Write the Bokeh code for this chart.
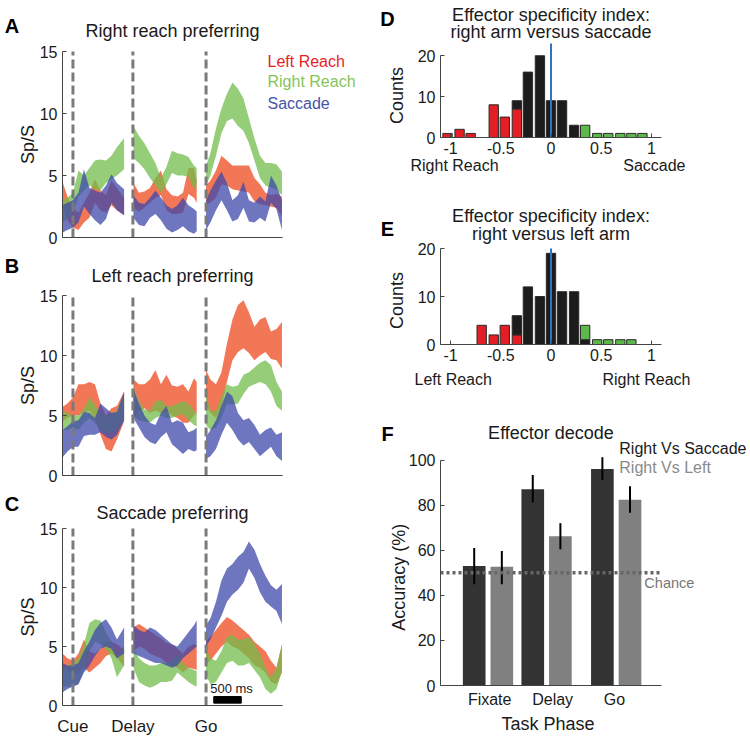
import math
import numpy as np
from bokeh.plotting import figure
from bokeh.models import Range1d, FixedTicker, Label
from bokeh.layouts import row, column
from bokeh.embed import file_html
from bokeh.resources import INLINE

FONT = "Liberation Sans"

# ---------------- data: PSTH bands (spikes/s), times in ms from cue ----------------
t_fix = [-190, -100, 0, 100, 200, 300, 400, 500, 600, 700, 800, 930]
t_delay = [1100, 1200, 1300, 1400, 1500, 1600, 1700, 1800, 1900, 2000, 2100, 2200, 2250]
t_go = [2420, 2500, 2600, 2700, 2800, 2900, 3000, 3100, 3200, 3300, 3400, 3500, 3600, 3700, 3800]
event_times = [0, 1090, 2420]
event_names = ["Cue", "Delay", "Go"]
scale_bar_ms = [2560, 3060]
time_axis = [-190, 3810]
rate_axis = [0, 15]
rate_ticks = [0, 5, 10, 15]

# Panel A: right reach preferring
A_left_lo = ([2.8, 1.4, 0.8, 0.6, 1.2, 1.6, 2.8, 2.2, 2.0, 2.6, 2.2, 1.8],
             [2.4, 2.1, 2.4, 2.8, 3.2, 3.4, 2.2, 1.9, 1.9, 2.0, 3.5, 3.2, 2.8],
             [2.7, 2.8, 3.2, 4.3, 4.2, 3.9, 3.8, 3.7, 3.6, 2.9, 2.7, 2.6, 2.5, 2.4, 1.7])
A_left_hi = ([4.5, 3.3, 2.4, 2.0, 2.8, 3.6, 4.7, 3.8, 3.4, 4.6, 4.0, 3.2],
             [4.4, 3.6, 3.7, 4.0, 4.8, 5.4, 3.9, 3.4, 3.3, 3.6, 5.6, 5.6, 4.6],
             [4.2, 4.6, 5.4, 6.6, 6.2, 5.8, 5.8, 5.8, 5.8, 4.8, 4.3, 3.6, 3.4, 3.5, 3.3])
A_right_lo = ([1.2, 1.5, 2.0, 3.3, 3.8, 4.2, 3.9, 3.8, 4.4, 4.7, 5.0, 5.5],
              [6.4, 6.0, 5.5, 4.8, 4.2, 3.6, 4.3, 5.2, 5.0, 5.0, 4.9, 3.9, 4.3],
              [4.2, 5.0, 6.6, 8.4, 9.4, 9.6, 9.0, 8.6, 7.6, 6.2, 4.8, 4.2, 4.0, 3.9, 3.4])
A_right_hi = ([3.0, 3.2, 3.6, 5.4, 5.0, 5.6, 6.2, 6.3, 6.2, 6.6, 7.3, 8.0],
              [9.0, 8.2, 7.6, 6.8, 6.0, 4.8, 5.7, 7.0, 6.8, 6.7, 6.5, 5.8, 5.6],
              [5.8, 6.8, 8.8, 10.4, 11.6, 12.5, 12.0, 11.2, 9.6, 8.0, 6.6, 6.0, 6.0, 5.9, 5.3])
A_sacc_lo = ([0.4, 0.6, 0.8, 1.2, 2.5, 1.9, 1.4, 1.0, 1.5, 2.8, 2.2, 1.8],
             [1.6, 1.0, 0.9, 1.6, 1.9, 1.4, 0.7, 0.4, 0.6, 0.9, 0.5, 0.3, 0.5],
             [0.6, 1.2, 2.2, 3.0, 2.2, 1.3, 1.5, 2.4, 1.3, 1.2, 1.6, 1.3, 2.8, 2.3, 0.6])
A_sacc_hi = ([2.6, 2.8, 3.0, 3.6, 5.5, 4.0, 3.8, 3.6, 4.2, 5.1, 4.4, 3.9],
             [3.4, 2.8, 2.7, 3.2, 3.8, 3.2, 2.6, 2.3, 2.6, 3.2, 2.6, 2.3, 2.1],
             [3.0, 3.8, 4.6, 5.3, 4.4, 3.0, 3.4, 4.5, 3.0, 2.8, 3.3, 2.9, 5.0, 4.2, 3.0])

# Panel B: left reach preferring
B_left_lo = ([4.5, 4.8, 5.0, 5.0, 5.2, 5.4, 4.8, 3.4, 2.2, 2.0, 3.0, 4.5],
             [4.8, 5.4, 5.6, 5.2, 5.4, 5.2, 5.4, 5.0, 4.8, 4.4, 4.4, 5.0, 5.2],
             [5.8, 5.2, 4.8, 5.6, 7.8, 9.6, 10.3, 10.6, 10.2, 9.6, 10.0, 10.3, 9.7, 9.6, 8.9])
B_left_hi = ([5.7, 6.0, 6.5, 7.6, 7.6, 7.8, 7.6, 6.0, 5.0, 5.6, 5.8, 7.0],
             [8.0, 7.6, 7.6, 8.0, 8.8, 7.6, 8.4, 7.5, 7.4, 7.6, 7.0, 8.1, 7.8],
             [8.8, 8.0, 7.6, 8.6, 11.0, 13.0, 14.2, 14.6, 13.6, 12.4, 13.0, 13.2, 12.0, 12.2, 12.8])
B_right_lo = ([3.8, 3.8, 4.0, 3.8, 4.4, 4.8, 4.4, 3.8, 3.5, 3.6, 3.8, 4.6],
              [5.0, 4.6, 4.5, 4.4, 4.8, 5.0, 4.8, 4.8, 5.0, 5.1, 4.6, 4.2, 4.1],
              [4.2, 3.8, 4.0, 4.8, 6.0, 5.9, 6.0, 6.8, 7.4, 7.6, 7.8, 7.6, 7.0, 5.8, 5.4])
B_right_hi = ([5.4, 5.2, 5.0, 5.0, 5.6, 6.5, 5.9, 5.2, 5.0, 5.2, 5.4, 6.8],
              [7.4, 6.2, 5.5, 5.4, 6.2, 6.3, 5.8, 5.8, 6.0, 6.2, 6.0, 5.4, 5.2],
              [6.8, 5.4, 5.4, 6.6, 7.6, 7.4, 7.5, 8.4, 8.6, 9.0, 9.4, 9.6, 9.2, 7.8, 7.0])
B_sacc_lo = ([1.5, 2.0, 2.4, 2.4, 3.3, 3.4, 3.4, 3.6, 3.2, 3.0, 3.4, 4.6],
             [4.8, 4.0, 3.2, 2.8, 2.6, 3.2, 3.6, 2.6, 2.2, 1.8, 2.2, 2.0, 2.1],
             [1.4, 1.6, 2.2, 3.4, 4.4, 3.8, 3.0, 2.5, 2.8, 2.2, 1.6, 2.0, 2.4, 1.6, 1.2])
B_sacc_hi = ([3.8, 4.1, 4.5, 4.6, 5.3, 5.2, 4.8, 6.0, 5.6, 5.2, 5.3, 7.0],
             [7.2, 6.0, 5.0, 4.4, 4.2, 5.2, 5.8, 4.4, 4.6, 4.4, 3.6, 3.8, 4.0],
             [3.2, 3.8, 4.6, 5.8, 7.0, 6.6, 5.2, 4.6, 4.8, 4.2, 3.4, 3.8, 4.0, 3.4, 3.6])

# Panel C: saccade preferring
C_left_lo = ([3.2, 3.0, 2.6, 2.8, 3.2, 2.8, 3.2, 3.6, 4.2, 4.4, 4.0, 3.3],
             [4.6, 5.0, 4.8, 4.4, 4.2, 4.0, 3.6, 3.4, 3.2, 2.8, 3.2, 3.1, 3.0],
             [3.6, 3.8, 4.4, 5.0, 5.4, 5.0, 4.8, 4.4, 4.0, 3.4, 3.2, 2.8, 2.0, 1.8, 2.8])
C_left_hi = ([4.4, 4.0, 3.8, 4.4, 5.6, 4.6, 4.4, 4.8, 5.4, 5.4, 5.2, 4.7],
             [6.6, 6.9, 6.6, 6.3, 6.0, 5.7, 5.3, 5.2, 4.8, 4.4, 5.0, 5.2, 5.1],
             [5.6, 5.8, 6.4, 7.0, 7.5, 7.2, 6.8, 6.4, 6.0, 5.4, 5.0, 4.6, 3.8, 3.2, 5.2])
C_right_lo = ([1.6, 1.6, 1.6, 1.8, 3.0, 4.6, 5.4, 5.2, 4.8, 4.0, 2.4, 3.4],
              [3.2, 2.0, 1.7, 1.5, 1.7, 2.0, 2.0, 2.1, 2.8, 2.4, 2.0, 1.7, 1.6],
              [2.6, 1.8, 2.0, 2.8, 3.6, 3.8, 3.4, 3.4, 3.6, 3.0, 2.4, 1.4, 1.0, 1.4, 2.9])
C_right_hi = ([3.2, 3.4, 3.6, 4.0, 5.2, 7.0, 7.3, 7.2, 6.2, 5.4, 4.2, 5.0],
              [4.8, 4.0, 3.6, 3.4, 3.4, 3.6, 3.6, 3.8, 4.4, 3.6, 3.2, 3.0, 2.9],
              [4.8, 4.0, 3.8, 4.6, 5.8, 6.0, 5.6, 5.6, 5.8, 5.2, 4.4, 3.2, 2.4, 3.2, 5.2])
C_sacc_lo = ([1.1, 1.4, 1.6, 1.8, 2.8, 3.4, 4.2, 4.8, 5.0, 4.8, 4.0, 4.4],
             [4.4, 4.2, 4.0, 3.8, 3.6, 3.6, 3.4, 3.2, 3.4, 4.0, 4.4, 4.8, 5.0],
             [5.0, 5.6, 6.6, 7.6, 8.8, 9.4, 9.8, 10.4, 11.6, 10.8, 9.6, 8.8, 8.4, 8.0, 6.9])
C_sacc_hi = ([3.6, 3.4, 3.4, 3.6, 4.6, 5.4, 6.4, 7.0, 7.3, 6.6, 5.6, 6.6],
             [6.8, 6.4, 6.2, 6.6, 6.4, 6.0, 5.6, 5.2, 5.0, 5.6, 6.2, 6.8, 7.2],
             [6.8, 7.4, 8.8, 10.6, 11.6, 12.0, 12.6, 13.0, 13.9, 13.2, 12.0, 11.0, 10.2, 9.8, 10.3])

# ---------------- data: effector specificity histograms ----------------
bin_centers = [-1.03, -0.91, -0.80, -0.69, -0.57, -0.46, -0.34, -0.23, -0.11,
               0.0, 0.11, 0.23, 0.34, 0.46, 0.57, 0.69, 0.80, 0.91]
D_red =   [1, 2, 1, 0, 8, 5, 7, 0, 0, 0, 0, 0, 0, 0, 0, 0, 0, 0]
D_black = [0, 0, 0, 0, 0, 0, 2, 16, 20, 9, 9, 3, 0, 0, 0, 0, 0, 0]
D_green = [0, 0, 0, 0, 0, 0, 0, 0, 0, 0, 0, 0, 3, 1, 1, 1, 1, 1]
E_red =   [0, 0, 0, 4, 2, 4, 2, 0, 0, 0, 0, 0, 0, 0, 0, 0, 0, 0]
E_black = [0, 0, 0, 0, 0, 0, 4, 12, 10, 19, 11, 11, 1, 0, 0, 0, 0, 0]
E_green = [0, 0, 0, 0, 0, 0, 0, 0, 0, 0, 0, 0, 3, 1, 1, 1, 1, 0]
index_axis = [-1.1, 1.1]
hist_ticks = [-1, -0.5, 0, 0.5, 1]
hist_tick_labels = ["-1", "-0.5", "0", "0.5", "1"]
count_ticks = [0, 10, 20]
zero_index = 0.0

# ---------------- data: effector decode ----------------
phases = ["Fixate", "Delay", "Go"]
phase_x = [0.86, 1.92, 3.18]
phase_label_x = [0.89, 2.03, 3.15]
acc_rvs_sacc = [53.0, 87.0, 96.0]
acc_rvs_sacc_lo = [44.9, 81.2, 91.1]
acc_rvs_sacc_hi = [61.0, 93.3, 101.2]
acc_rvs_left = [52.7, 66.2, 82.4]
acc_rvs_left_lo = [44.9, 60.4, 76.6]
acc_rvs_left_hi = [59.7, 72.0, 88.4]
chance_level = 50
acc_ticks = [0, 20, 40, 60, 80, 100]
phase_axis = [0, 4]
acc_axis = [0, 102]

# ---------------- styling ----------------
RED = "#ee4a1e"
GREEN = "#73bc4b"
BLUE = "#3d48ab"
TXT = "#1a1a1a"
AXC = "#444444"


class Panel:
    """A figure whose whole canvas is the plotting frame; the visible axes sit at
    fixed locations so that texts outside the 'inner' box are not clipped."""

    def __init__(self, Wc, Hc, L, T, W, H, xr, yr):
        self.W, self.H, self.xr, self.yr = W, H, xr, yr
        R = Wc - L - W
        B = Hc - T - H
        sx = (xr[1] - xr[0]) / W
        sy = (yr[1] - yr[0]) / H
        self.p = figure(width=Wc, height=Hc,
                        x_range=Range1d(xr[0] - L * sx, xr[1] + R * sx),
                        y_range=Range1d(yr[0] - B * sy, yr[1] + T * sy),
                        output_backend="svg", toolbar_location=None,
                        min_border_left=0, min_border_right=0,
                        min_border_top=0, min_border_bottom=0)
        p = self.p
        p.grid.visible = False
        p.outline_line_color = None
        for ax in p.axis:
            ax.axis_line_color = AXC
            ax.axis_line_width = 1
            ax.major_tick_line_color = AXC
            ax.major_tick_in = 4
            ax.major_tick_out = 0
            ax.minor_tick_in = 0
            ax.minor_tick_out = 0
            ax.major_label_text_font = FONT
            ax.major_label_text_font_size = "16px"
            ax.major_label_text_color = TXT
            ax.major_label_standoff = 5
        p.xaxis.fixed_location = yr[0]
        p.xaxis.bounds = (xr[0], xr[1])
        p.yaxis.fixed_location = xr[0]
        p.yaxis.bounds = (yr[0], yr[1])

    def pos(self, fx, fy):
        return (self.xr[0] + fx * (self.xr[1] - self.xr[0]) / self.W,
                self.yr[0] + fy * (self.yr[1] - self.yr[0]) / self.H)

    def text(self, fx, fy, s, size, color=TXT, align="center", bold=False, angle=0.0):
        x, y = self.pos(fx, fy)
        self.p.add_layout(Label(x=x, y=y, text=s, text_font=FONT,
                                text_font_size=f"{size}px", text_color=color,
                                text_align=align, text_baseline="middle",
                                text_font_style="bold" if bold else "normal", angle=angle))


LW, LL, LFW = 375, 62, 220


def psth(letter, title, lows, highs, top, H, bottom, title_dy, letter_dy,
         legend=False, events=False, scalebar=False):
    P = Panel(LW, top + H + bottom, LL, top, LFW, H, time_axis, rate_axis)
    p = P.p
    segs = [t_fix, t_delay, t_go]
    for lo3, hi3, col in zip(lows, highs, [RED, GREEN, BLUE]):
        for t, lo, hi in zip(segs, lo3, hi3):
            p.varea(x=t, y1=lo, y2=hi, fill_color=col, fill_alpha=0.75)
    p.segment(x0=event_times, y0=[rate_axis[0]] * 3, x1=event_times, y1=[rate_axis[1]] * 3,
              line_color="#7a7a7a", line_width=3, line_dash="9 4")
    p.yaxis.ticker = FixedTicker(ticks=rate_ticks)
    if events:
        p.xaxis.ticker = FixedTicker(ticks=event_times)
        p.xaxis.major_label_overrides = {t: n for t, n in zip(event_times, event_names)}
        p.xaxis.major_tick_in = 0
        p.xaxis.major_label_text_font_size = "17px"
        p.xaxis.major_label_standoff = 11
    else:
        p.xaxis.ticker = FixedTicker(ticks=[])
    if scalebar:
        p.quad(left=[scale_bar_ms[0]], right=[scale_bar_ms[1]], bottom=[0.2], top=[0.76],
               color="black")
        P.text(169, 17, "500 ms", 13)
    P.text(LFW / 2, H + title_dy, title, 18)
    P.text(-50.5, H + letter_dy, letter, 20, bold=True, color="black")
    P.text(-35, H / 2, "Sp/S", 18, angle=math.pi / 2)
    if legend:
        P.text(205, H - 10, "Left Reach", 16, color="#e41f26", align="left")
        P.text(205, H - 30, "Right Reach", 16, color="#84c55a", align="left")
        P.text(205, H - 52, "Saccade", 16, color="#4653a8", align="left")
    return p


pA = psth("A", "Right reach preferring", [A_left_lo, A_right_lo, A_sacc_lo],
          [A_left_hi, A_right_hi, A_sacc_hi], 51, 186, 13, 21, 26, legend=True)
pB = psth("B", "Left reach preferring", [B_left_lo, B_right_lo, B_sacc_lo],
          [B_left_hi, B_right_hi, B_sacc_hi], 45, 180, 13, 20, 30)
pC = psth("C", "Saccade preferring", [C_left_lo, C_right_lo, C_sacc_lo],
          [C_left_hi, C_right_hi, C_sacc_hi], 40, 177, 32, 16, 25, events=True, scalebar=True)

RW, RL, RFW = 375, 65, 221


def hist(letter, l1, l2, red, black, green, ymax, top, H, bottom, dy1, dy2, ldy,
         left_txt, right_txt, lx, rx, bdy, cdy):
    P = Panel(RW, top + H + bottom, RL, top, RFW, H, index_axis, [0, ymax])
    p = P.p
    p.yaxis.bounds = (count_ticks[0], count_ticks[-1])
    c = np.array(bin_centers)
    r, b, g = np.array(red, float), np.array(black, float), np.array(green, float)
    w = 0.093
    for bot, cnt, col in [(np.zeros_like(r), r, "#e31e24"), (r, b, "#1c1c1c"),
                          (r + b, g, "#5cb848")]:
        m = cnt > 0
        p.quad(left=c[m] - w / 2, right=c[m] + w / 2, bottom=bot[m], top=(bot + cnt)[m],
               fill_color=col, line_color="#2a2a2a", line_width=1)
    p.segment(x0=[zero_index], y0=[0], x1=[zero_index], y1=[ymax],
              line_color="#2f74c0", line_width=2)
    p.xaxis.ticker = FixedTicker(ticks=hist_ticks)
    p.xaxis.major_label_overrides = {t: s for t, s in zip(hist_ticks, hist_tick_labels)}
    p.yaxis.ticker = FixedTicker(ticks=count_ticks)
    p.xaxis.major_label_standoff = 4
    P.text(RFW / 2, H + dy1, l1, 18)
    P.text(RFW / 2, H + dy2, l2, 18)
    P.text(-53, H + ldy, letter, 20, bold=True, color="black")
    P.text(-44, H / 2 - cdy, "Counts", 18, angle=math.pi / 2)
    P.text(lx, -bdy, left_txt, 16, align="left")
    P.text(RFW + rx, -bdy, right_txt, 16, align="right")
    return p


pD = hist("D", "Effector specificity index:", "right arm versus saccade",
          D_red, D_black, D_green, 23, 43, 94, 53, 29, 12, 25,
          "Right Reach", "Saccade", -30, 24, 28, 5)
pE = hist("E", "Effector specificity index:", "right versus left arm",
          E_red, E_black, E_green, 20, 58, 96, 56, 33, 15, 20,
          "Left Reach", "Right Reach", -26, 29, 35, 4)

# ---- F: effector decode ----
FH, FTOP, FBOT = 230, 55, 52
PF = Panel(RW, FTOP + FH + FBOT, RL, FTOP, RFW, FH, phase_axis, acc_axis)
pF = PF.p
pF.yaxis.bounds = (acc_ticks[0], acc_ticks[-1])
px = np.array(phase_x)
pF.vbar(x=px - 0.25, top=acc_rvs_sacc, width=0.41, fill_color="#333333", line_color=None)
pF.vbar(x=px + 0.25, top=acc_rvs_left, width=0.41, fill_color="#808080", line_color=None)
pF.segment(x0=px - 0.25, y0=acc_rvs_sacc_lo, x1=px - 0.25, y1=acc_rvs_sacc_hi,
           line_color="black", line_width=2)
pF.segment(x0=px + 0.25, y0=acc_rvs_left_lo, x1=px + 0.25, y1=acc_rvs_left_hi,
           line_color="black", line_width=2)
pF.line(x=[phase_axis[0], phase_axis[1] - 0.02], y=[chance_level, chance_level],
        line_color="#666666", line_width=3.5, line_dash="3 3")
pF.yaxis.ticker = FixedTicker(ticks=acc_ticks)
pF.xaxis.ticker = FixedTicker(ticks=phase_label_x)
pF.xaxis.major_label_overrides = {t: s for t, s in zip(phase_label_x, phases)}
pF.xaxis.major_tick_in = 0
pF.xaxis.major_label_standoff = 5
PF.text(RFW / 2, FH + 23, "Effector decode", 18)
PF.text(-53, FH + 22, "F", 20, bold=True, color="black")
pF.add_layout(Label(x=3.236, y=104.9, text="Right Vs Saccade", text_font=FONT,
                    text_font_size="16px", text_color="#1a1a1a", text_baseline="middle"))
pF.add_layout(Label(x=3.236, y=96.5, text="Right Vs Left", text_font=FONT,
                    text_font_size="16px", text_color="#8a8a8a", text_baseline="middle"))
pF.add_layout(Label(x=3.69, y=45.3, text="Chance", text_font=FONT, text_font_size="14.5px",
                    text_color="#777777", text_baseline="middle"))
PF.text(-42, 48 * FH / 102, "Accuracy (%)", 18, angle=math.pi / 2)
PF.text(1.945 * RFW / 4, -38, "Task Phase", 18)

layout = row(column(pA, pB, pC), column(pD, pE, pF))
open("out.html", "w").write(file_html(layout, INLINE))
